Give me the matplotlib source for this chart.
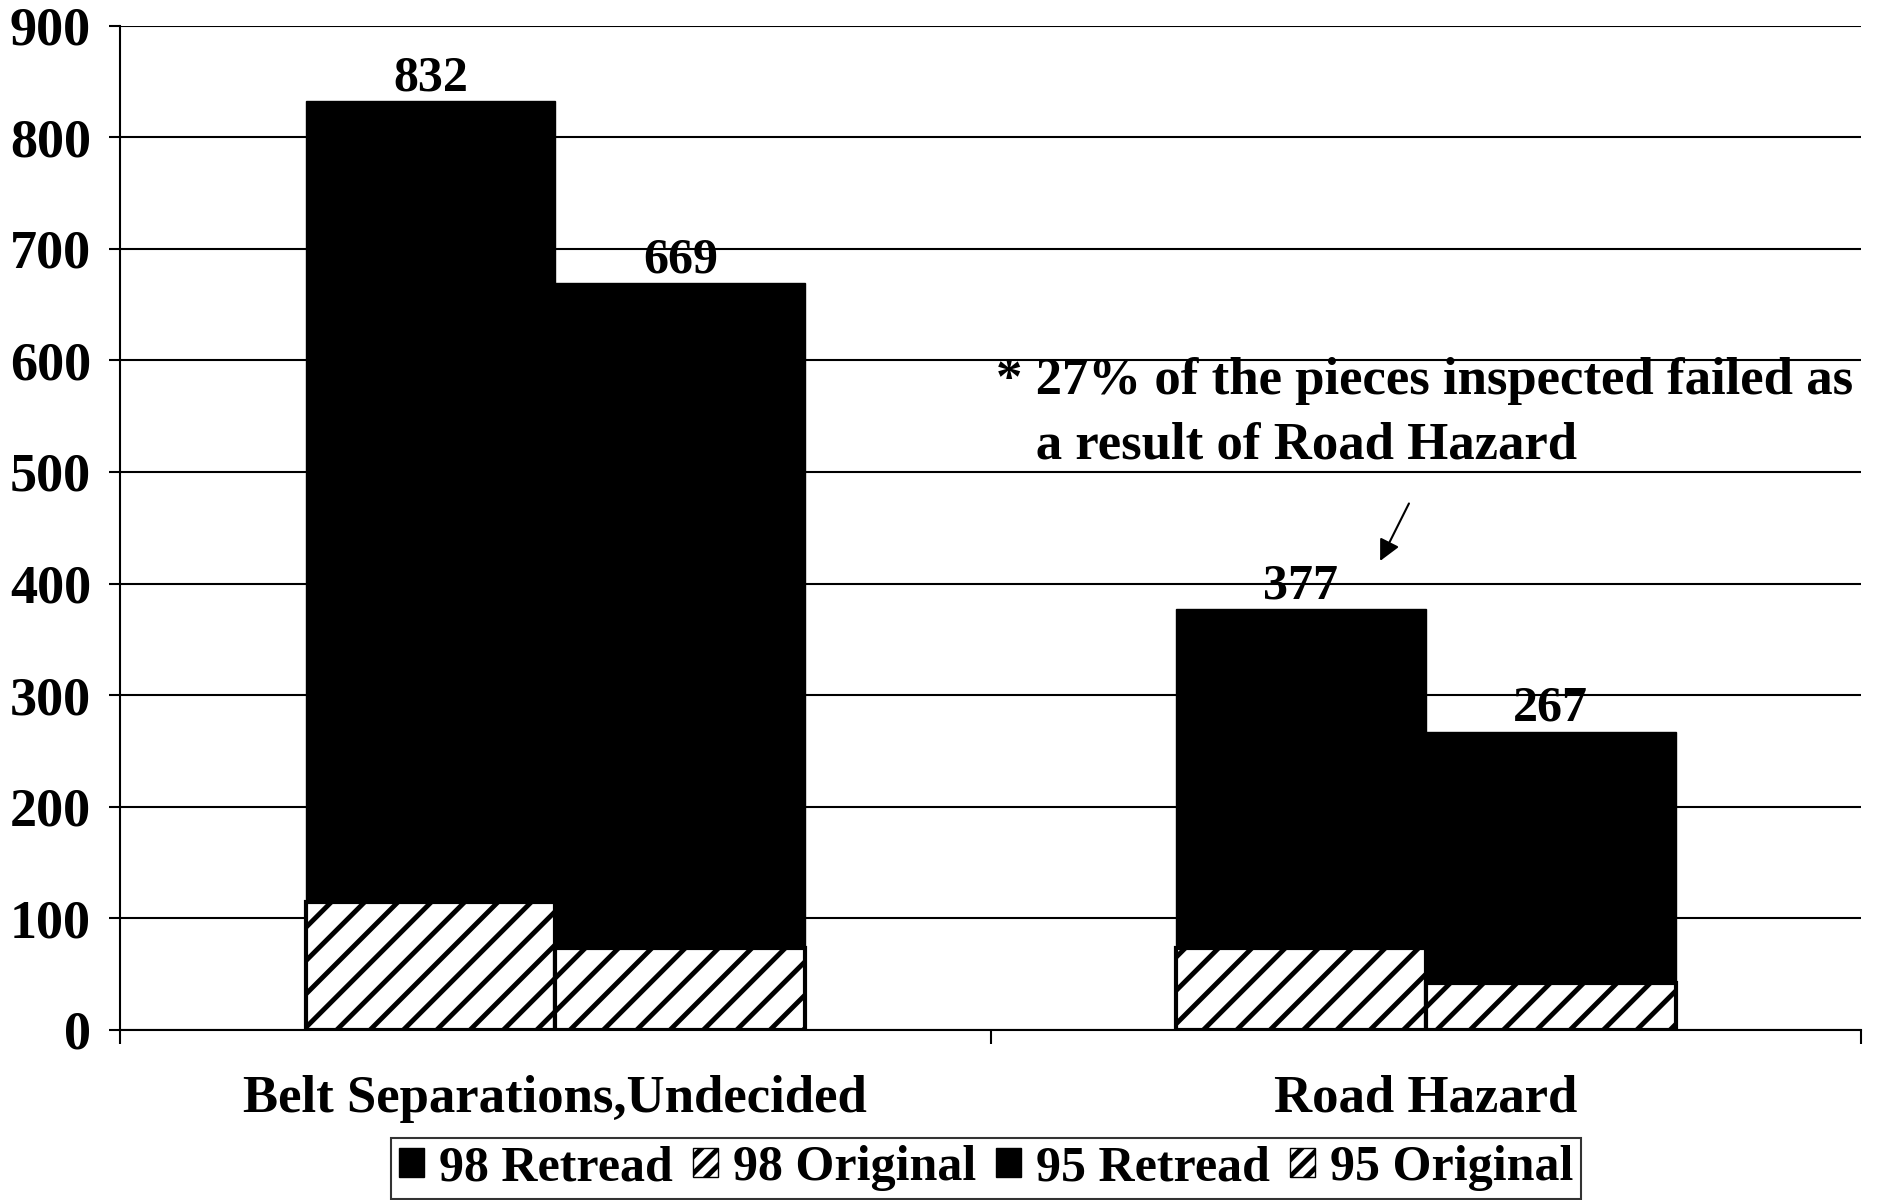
import matplotlib.pyplot as plt
import numpy as np
from matplotlib.patches import Patch

plt.rcParams['font.family'] = ['Liberation Serif', 'DejaVu Serif']
plt.rcParams['font.weight'] = 'bold'
plt.rcParams['hatch.linewidth'] = 3.5

categories = ["Belt Separations,Undecided", "Road Hazard"]
total_98 = [832, 377]
total_95 = [669, 267]
original_98 = [115, 73]
original_95 = [73, 42]
retread_98 = [t - o for t, o in zip(total_98, original_98)]
retread_95 = [t - o for t, o in zip(total_95, original_95)]
yticks = [0, 100, 200, 300, 400, 500, 600, 700, 800, 900]
note = "* 27% of the pieces inspected failed as\n   a result of Road Hazard"

fig = plt.figure(figsize=(18.78, 12), dpi=100)
ax = fig.add_axes([0.064, 0.1417, 0.927, 0.837])

x = np.arange(len(categories))
w = 0.287

# originals at bottom (hatched), retreads on top (black)
ax.bar(x - w/2, original_98, w, color='white', edgecolor='black', hatch='/', linewidth=3, zorder=3)
ax.bar(x - w/2, retread_98, w, bottom=original_98, color='black', edgecolor='black', linewidth=1, zorder=3)
ax.bar(x + w/2, original_95, w, color='white', edgecolor='black', hatch='/', linewidth=3, zorder=3)
ax.bar(x + w/2, retread_95, w, bottom=original_95, color='black', edgecolor='black', linewidth=1, zorder=3)

for xi, t in zip(x - w/2, total_98):
    ax.text(xi, t, str(t), ha='center', va='bottom', fontsize=36, fontweight='bold', zorder=4)
for xi, t in zip(x + w/2, total_95):
    ax.text(xi, t, str(t), ha='center', va='bottom', fontsize=36, fontweight='bold', zorder=4)

ax.set_xlim(-0.5, 1.5)
ax.set_ylim(0, 900)
ax.set_yticks(yticks)
ax.set_yticklabels([str(v) for v in yticks], fontsize=39, fontweight='bold')
ax.yaxis.grid(True, color='black', linewidth=1.5, zorder=0)
ax.set_axisbelow(True)

ax.set_xticks([-0.5, 0.5, 1.5])
ax.set_xticklabels([])
ax.tick_params(axis='x', direction='out', length=10, width=1.5)
ax.tick_params(axis='y', direction='out', length=8, width=1.5, pad=13)
for i, c in enumerate(categories):
    ax.text(x[i], -40, c, ha='center', va='top', fontsize=38, fontweight='bold')

for s in ['top', 'right']:
    ax.spines[s].set_visible(False)
ax.spines['left'].set_linewidth(1.5)
ax.spines['bottom'].set_linewidth(1.5)

ax.text(0.506, 603, note, ha='left', va='top', fontsize=38, fontweight='bold',
        linespacing=1.45, zorder=5)
ax.annotate("", xy=(0.946, 418), xytext=(0.982, 474),
            arrowprops=dict(arrowstyle='-|>', color='black', lw=1.5, mutation_scale=32))

handles = [Patch(facecolor='black', edgecolor='black'),
           Patch(facecolor='white', edgecolor='black', hatch='//'),
           Patch(facecolor='black', edgecolor='black'),
           Patch(facecolor='white', edgecolor='black', hatch='//')]
labels = ["98 Retread", "98 Original", "95 Retread", "95 Original"]
leg = fig.legend(handles, labels, loc='upper center', bbox_to_anchor=(0.525, 0.052),
                 ncol=4, fontsize=36, frameon=True, fancybox=False, edgecolor='black',
                 handlelength=0.5, handleheight=0.5, handletextpad=0.3,
                 columnspacing=0.4, borderpad=0.15, borderaxespad=0)
leg.get_frame().set_linewidth(1.5)

fig.savefig("out.png", dpi=100)
